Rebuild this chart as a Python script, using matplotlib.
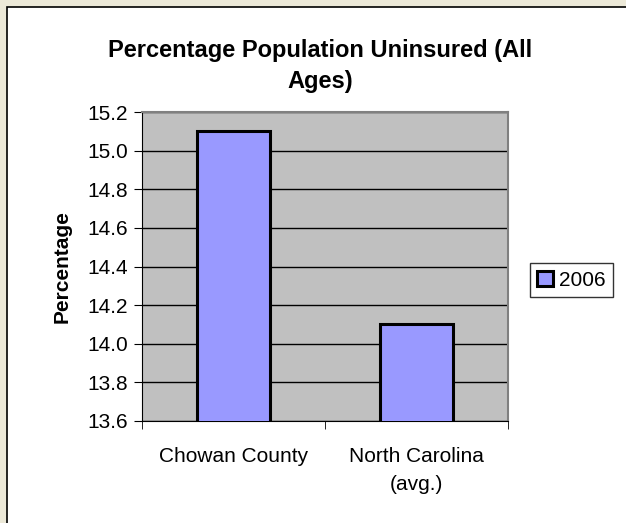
import matplotlib.pyplot as plt
from matplotlib.patches import Rectangle

plt.rcParams['font.family'] = ['Liberation Sans', 'DejaVu Sans']

categories = ['Chowan County', 'North Carolina\n(avg.)']
values_2006 = [15.1, 14.1]
series_name = '2006'
y_ticks = [13.6, 13.8, 14.0, 14.2, 14.4, 14.6, 14.8, 15.0, 15.2]

W, H = 626, 523
fig = plt.figure(figsize=(W / 100, H / 100), dpi=100)
fig.patch.set_facecolor('#ECE9D8')

# white chart panel with black frame (runs off the right/bottom edge)
fig.patches.append(Rectangle((7 / W, -0.1), 1.2, 1 - 7 / H + 0.1,
                             transform=fig.transFigure, facecolor='white',
                             edgecolor='black', linewidth=1.2, zorder=-1))

ax = fig.add_axes([142 / W, 1 - 421 / H, (508 - 142) / W, (421 - 112) / H])
ax.set_facecolor('#C0C0C0')

x = list(range(len(categories)))
ax.bar(x, values_2006, width=0.395, color='#9999FF', edgecolor='black',
       linewidth=2.2, zorder=3, label=series_name)

ax.set_xlim(-0.5, len(categories) - 0.5)
ax.set_ylim(y_ticks[0], y_ticks[-1])
ax.set_yticks(y_ticks)
ax.set_yticklabels([f'{t:.1f}' for t in y_ticks], fontsize=15)
ax.yaxis.grid(True, color='black', linewidth=1, zorder=1)
ax.set_axisbelow(True)

ax.set_xticks(x)
ax.set_xticklabels(categories, fontsize=15, linespacing=1.6)
ax.tick_params(axis='x', which='major', length=0, pad=19)
ax.set_xticks([-0.5, 0.5, 1.5], minor=True)
ax.tick_params(axis='x', which='minor', length=6, direction='out', color='black')
ax.tick_params(axis='y', length=6, direction='out', color='black', pad=4)

for s in ['left', 'bottom']:
    ax.spines[s].set_color('black')
for s in ['top', 'right']:
    ax.spines[s].set_color('#808080')
    ax.spines[s].set_linewidth(1.5)

ax.set_ylabel('Percentage', fontsize=15, fontweight='bold')
ax.yaxis.set_label_coords((72 - 142) / (508 - 142), 0.5)

fig.text(320 / W, 1 - 66 / H, 'Percentage Population Uninsured (All\nAges)',
         ha='center', va='center', fontsize=17, fontweight='bold',
         linespacing=1.4)

leg = ax.legend(loc='center left', bbox_to_anchor=(530 / W, 1 - 280 / H),
                bbox_transform=fig.transFigure, fontsize=15, frameon=True,
                fancybox=False, handlelength=0.75, handleheight=0.75,
                handletextpad=0.3, borderpad=0.35, borderaxespad=0)
leg.get_frame().set_edgecolor('black')
leg.get_frame().set_linewidth(1)

fig.savefig('out.png', dpi=100, facecolor=fig.get_facecolor())
